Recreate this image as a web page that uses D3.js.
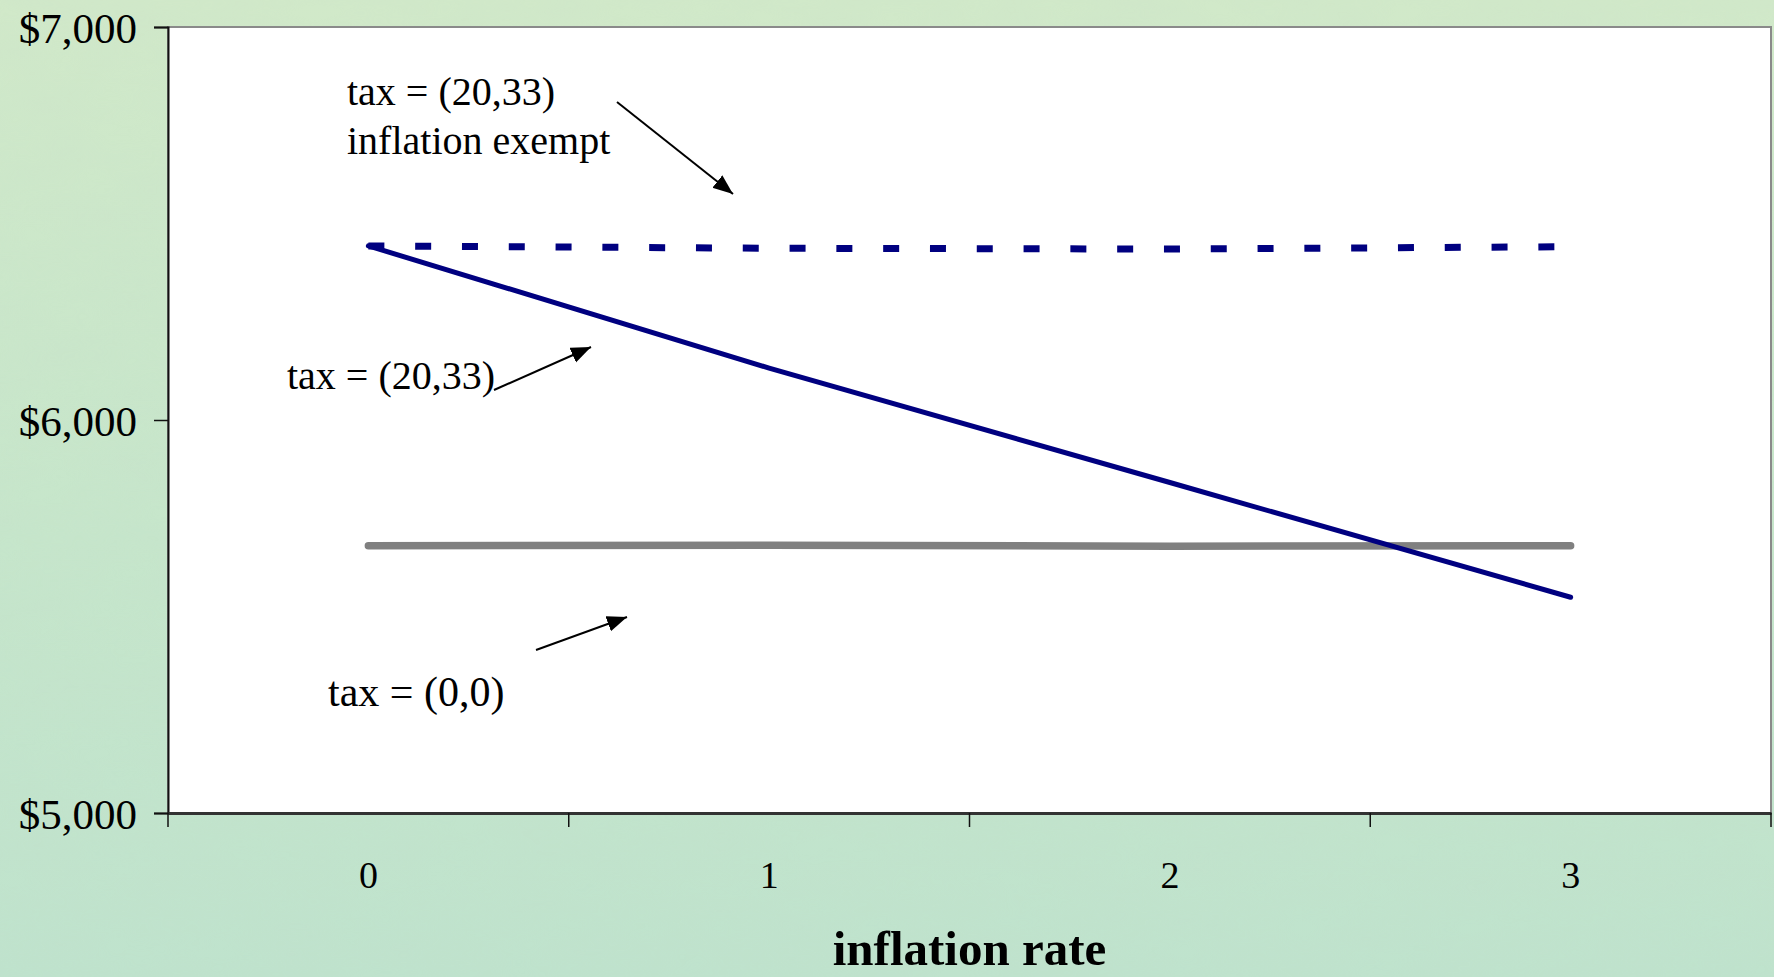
<!DOCTYPE html>
<html><head><meta charset="utf-8">
<script src="https://cdn.jsdelivr.net/npm/d3@7"></script>
<style>html,body{margin:0;padding:0;overflow:hidden;background:#c8e6ca}</style>
</head><body>
<svg id="chart" width="1774" height="977"></svg>
<script>
// Inflation rate categories and consumption under three tax regimes
const categories = ["0", "1", "2", "3"];
const exemptValues = [6443, 6437, 6435, 6441];   // tax = (20,33), inflation exempt
const taxedValues  = [6443, 6132, 5841, 5549];   // tax = (20,33)
const noTaxValues  = [5680, 5681, 5679, 5680];   // tax = (0,0)
const yTickValues  = [5000, 6000, 7000];
const xTitle = "inflation rate";

const W = 1774, H = 977;
const plot = {left: 168, top: 27, right: 1771, bottom: 813};
const serif = "'Liberation Serif', 'Times New Roman', serif";

const svg = d3.select("#chart");

// textured green backdrop
const defs = svg.append("defs");
const grad = defs.append("linearGradient").attr("id", "bg").attr("x1", 0).attr("y1", 0).attr("x2", 0).attr("y2", 1);
grad.append("stop").attr("offset", "0%").attr("stop-color", "#d1e9c9");
grad.append("stop").attr("offset", "55%").attr("stop-color", "#c6e6cb");
grad.append("stop").attr("offset", "100%").attr("stop-color", "#bfe3cd");
const tex = defs.append("filter").attr("id", "mottle").attr("x", 0).attr("y", 0).attr("width", 1).attr("height", 1);
tex.append("feTurbulence").attr("type", "fractalNoise").attr("baseFrequency", "0.012 0.03").attr("numOctaves", 3).attr("seed", 7).attr("result", "n");
tex.append("feColorMatrix").attr("in", "n").attr("type", "matrix")
  .attr("values", "0 0 0 0 0.55  0 0 0 0 0.68  0 0 0 0 0.58  0 0 0 0.35 -0.08");
svg.append("rect").attr("width", W).attr("height", H).attr("fill", "url(#bg)");
svg.append("rect").attr("width", W).attr("height", H).attr("filter", "url(#mottle)").attr("opacity", 0.5);

defs.append("marker").attr("id", "head")
  .attr("markerUnits", "userSpaceOnUse")
  .attr("markerWidth", 22).attr("markerHeight", 18)
  .attr("refX", 20).attr("refY", 8).attr("orient", "auto")
  .append("path").attr("d", "M0,0 L20,8 L0,16 Z").attr("fill", "#000");

// scales
const x = d3.scaleBand().domain(categories).range([plot.left, plot.right]);
const y = d3.scaleLinear().domain([5000, 7000]).range([plot.bottom, plot.top]);
const cx = c => x(c) + x.bandwidth() / 2;

// plot area
svg.append("rect")
  .attr("x", plot.left).attr("y", plot.top)
  .attr("width", plot.right - plot.left).attr("height", plot.bottom - plot.top)
  .attr("fill", "#fff").attr("stroke", "#8a8a8a").attr("stroke-width", 2);

// y axis
const yAxis = svg.append("g").attr("transform", `translate(${plot.left},0)`)
  .call(d3.axisLeft(y).tickValues(yTickValues).tickFormat(d3.format("$,")).tickSize(14).tickPadding(17));
yAxis.select(".domain").attr("stroke", "#111").attr("stroke-width", 2);
yAxis.selectAll(".tick line").attr("stroke", "#111").attr("stroke-width", 1.5);
yAxis.selectAll(".tick text").attr("font-family", serif).attr("font-size", 43).attr("fill", "#000").attr("dy", "0.35em");

// x axis: labels at category centres, tick marks between categories
const xAxis = svg.append("g").attr("transform", `translate(0,${plot.bottom})`)
  .call(d3.axisBottom(x).tickSize(0).tickPadding(0));
xAxis.select(".domain").attr("stroke", "#333").attr("stroke-width", 3);
xAxis.selectAll(".tick text").attr("font-family", serif).attr("font-size", 38).attr("fill", "#000")
  .attr("y", 62).attr("dy", "0.35em");
const bounds = categories.map(c => x(c)).concat([x(categories[categories.length - 1]) + x.bandwidth()]);
xAxis.selectAll("line.sep").data(bounds).join("line").attr("class", "sep")
  .attr("x1", d => d).attr("x2", d => d).attr("y1", 0).attr("y2", 14)
  .attr("stroke", "#111").attr("stroke-width", 1.5);

svg.append("text").attr("x", (plot.left + plot.right) / 2).attr("y", 948).attr("dy", "0.35em")
  .attr("text-anchor", "middle").attr("font-family", serif).attr("font-weight", "bold")
  .attr("font-size", 49).text(xTitle);

// series lines
const line = vals => d3.line().x((d, i) => cx(categories[i])).y(d => y(d))(vals);

svg.append("path").attr("d", line(noTaxValues)).attr("fill", "none")
  .attr("stroke", "#808080").attr("stroke-width", 7.5).attr("stroke-linecap", "round");
svg.append("path").attr("d", line(taxedValues)).attr("fill", "none")
  .attr("stroke", "#000080").attr("stroke-width", 5).attr("stroke-linecap", "round");
svg.append("path").attr("d", line(exemptValues)).attr("fill", "none")
  .attr("stroke", "#000080").attr("stroke-width", 7).attr("stroke-dasharray", "16 30.8");

// annotations
const ann = svg.append("g").attr("font-family", serif).attr("font-size", 40).attr("fill", "#000");
ann.append("text").attr("x", 347).attr("y", 105).text("tax = (20,33)");
ann.append("text").attr("x", 347).attr("y", 154).text("inflation exempt");
ann.append("text").attr("x", 287).attr("y", 389).text("tax = (20,33)");
ann.append("text").attr("x", 328).attr("y", 706).attr("font-size", 42).text("tax = (0,0)");

const arrows = [
  [[617, 102], [733, 194]],
  [[494, 390], [591, 347]],
  [[536, 650], [627, 617]]
];
svg.append("g").selectAll("line").data(arrows).join("line")
  .attr("x1", d => d[0][0]).attr("y1", d => d[0][1])
  .attr("x2", d => d[1][0]).attr("y2", d => d[1][1])
  .attr("stroke", "#000").attr("stroke-width", 2).attr("marker-end", "url(#head)");
</script>
</body></html>
